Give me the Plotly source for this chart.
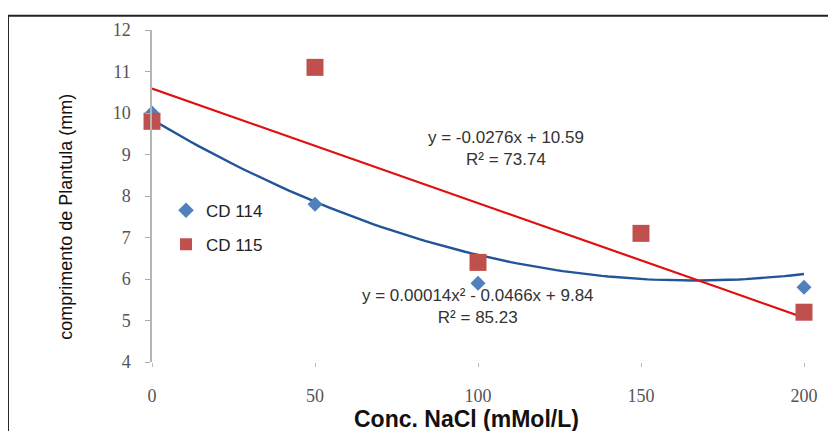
import numpy as np
import plotly.graph_objects as go

# Data
conc_114 = [0, 50, 100, 200]
len_114 = [10.0, 7.8, 5.9, 5.8]
conc_115 = [0, 50, 100, 150, 200]
len_115 = [9.8, 11.1, 6.4, 7.1, 5.2]

# Trendline coefficients (as printed on the chart)
lin_115 = [-0.0276, 10.59]          # slope, intercept
poly_114 = [0.00014, -0.0466, 9.84]  # a, b, c

x_ticks = [0, 50, 100, 150, 200]
y_ticks = [4, 5, 6, 7, 8, 9, 10, 11, 12]

xs = np.linspace(0, 200, 101)
y_poly = np.polyval(poly_114, xs)
y_lin = np.polyval(lin_115, xs)

fig = go.Figure()
fig.add_trace(go.Scatter(x=xs, y=y_poly, mode="lines", line=dict(color="#22549A", width=2.4),
                         showlegend=False, hoverinfo="skip", cliponaxis=False))
fig.add_trace(go.Scatter(x=xs, y=y_lin, mode="lines", line=dict(color="#E01010", width=2.2),
                         showlegend=False, hoverinfo="skip", cliponaxis=False))
fig.add_trace(go.Scatter(x=conc_114, y=len_114, mode="markers", name="CD 114", legendgroup="a",
                         cliponaxis=False,
                         marker=dict(symbol="diamond", size=11.5, color="#4F81BD")))
fig.add_trace(go.Scatter(x=conc_115, y=len_115, mode="markers", name="CD 115", legendgroup="b",
                         cliponaxis=False,
                         marker=dict(symbol="square", size=17, color="#C0504D")))

tick_font = dict(family="Liberation Serif, serif", size=18, color="#555")
txt_font = dict(family="Liberation Sans, Arial", size=17, color="#333")

fig.update_layout(
    width=836, height=431,
    margin=dict(l=144, r=40, t=17, b=77),
    paper_bgcolor="white", plot_bgcolor="white",
    showlegend=True,
    legend=dict(x=0.0215, y=0.51, xanchor="left", yanchor="top",
                font=dict(family="Liberation Sans, Arial", size=17, color="#222"),
                bgcolor="rgba(0,0,0,0)", tracegroupgap=9, itemwidth=30,
                itemsizing="constant"),
    xaxis=dict(range=[0, 200], tickvals=x_ticks, showgrid=False, zeroline=False,
               showline=False, ticks="outside", ticklen=4, tickcolor="#bbb",
               tickfont=tick_font, ticklabelstandoff=13),
    yaxis=dict(range=[4, 12], tickvals=y_ticks, showgrid=False, zeroline=False,
               showline=True, linecolor="#b5b5b5", linewidth=1.5,
               ticks="outside", ticklen=5, tickcolor="#aaa",
               tickfont=tick_font, ticklabelstandoff=11),
    annotations=[
        dict(x=108.6, y=9.15, xref="x", yref="y", text="y = -0.0276x + 10.59<br>R² = 73.74",
             showarrow=False, font=txt_font, xanchor="center", yanchor="middle", align="center"),
        dict(x=100, y=5.34, xref="x", yref="y", text="y = 0.00014x² - 0.0466x + 9.84<br>R² = 85.23",
             showarrow=False, font=txt_font, xanchor="center", yanchor="middle", align="center"),
        dict(x=0.4816, y=-0.172, xref="paper", yref="paper", text="<b>Conc. NaCl (mMol/L)</b>",
             showarrow=False, xanchor="center", yanchor="middle",
             font=dict(family="Liberation Sans, Arial", size=23, color="#111")),
        dict(x=-0.133, y=0.438, xref="paper", yref="paper", text="comprimento de Plantula (mm)",
             showarrow=False, textangle=-90, xanchor="center", yanchor="middle",
             font=dict(family="Liberation Sans, Arial", size=18, color="#111")),
    ],
    shapes=[dict(type="rect", xref="paper", yref="paper", x0=-0.2209, x1=1.07, y0=-0.3, y1=1.043,
                 line=dict(color="#222", width=2), fillcolor="rgba(0,0,0,0)", layer="below")],
)

fig.write_html("out.html")
